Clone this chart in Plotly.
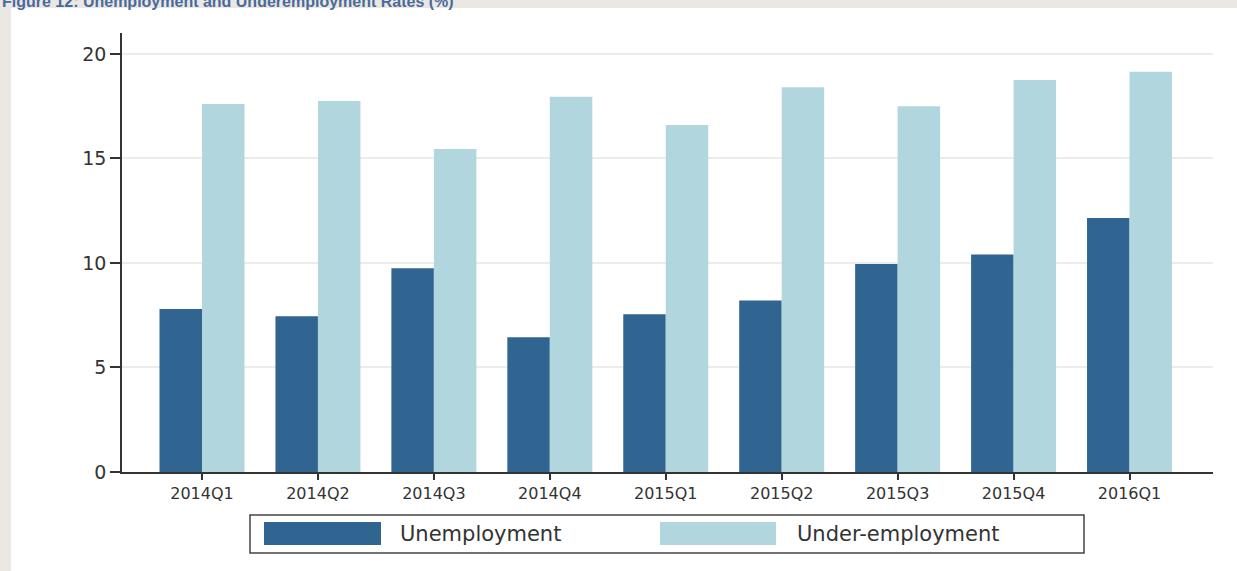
import plotly.graph_objects as go

quarters = ["2014Q1", "2014Q2", "2014Q3", "2014Q4", "2015Q1", "2015Q2", "2015Q3", "2015Q4", "2016Q1"]
unemployment = [7.8, 7.45, 9.75, 6.45, 7.55, 8.2, 9.95, 10.4, 12.15]
underemployment = [17.6, 17.75, 15.45, 17.95, 16.6, 18.4, 17.5, 18.75, 19.15]
series_names = ["Unemployment", "Under-employment"]
series_colors = ["#2f6590", "#b2d6de"]
y_ticks = [0, 5, 10, 15, 20]
title_text = "Figure 12: Unemployment and Underemployment Rates (%)"

W, H = 1237, 571
L, R, T, B = 122, 24, 33, 99
PW, PH = W - L - R, H - T - B

def px(x):
    return (x - L) / PW

def py(y):
    return (H - B - y) / PH

fig = go.Figure()
for name, vals, col in zip(series_names, [unemployment, underemployment], series_colors):
    fig.add_trace(go.Bar(x=quarters, y=vals, name=name, marker=dict(color=col, line=dict(width=0)),
                         showlegend=False))

shapes = []
annotations = []
# white panel
shapes.append(dict(type="rect", xref="paper", yref="paper", x0=px(11), x1=px(W + 5), y0=py(H + 5), y1=py(8),
                   fillcolor="white", line=dict(width=0), layer="below"))
# legend box
shapes.append(dict(type="rect", xref="paper", yref="paper", x0=px(250), x1=px(1084), y0=py(553), y1=py(515),
                   fillcolor="white", line=dict(color="#444444", width=1.5)))
sw = [(264, 381, 398), (660, 776, 795)]
for (a, b, t), name, col in zip(sw, series_names, series_colors):
    shapes.append(dict(type="rect", xref="paper", yref="paper", x0=px(a), x1=px(b), y0=py(545), y1=py(522),
                       fillcolor=col, line=dict(width=0)))
    annotations.append(dict(xref="paper", yref="paper", x=px(t), y=py(534), xanchor="left", yanchor="middle",
                            text=name, showarrow=False,
                            font=dict(family="DejaVu Sans", size=21, color="#333333")))
annotations.append(dict(xref="paper", yref="paper", x=px(0), y=py(12), xanchor="left", yanchor="bottom",
                        text="<b>" + title_text + "</b>", showarrow=False,
                        font=dict(family="Liberation Sans", size=16, color="#4a6a9c")))

fig.update_layout(
    width=W, height=H,
    margin=dict(l=L, r=R, t=T, b=B),
    paper_bgcolor="#ebe8e3",
    plot_bgcolor="white",
    barmode="group",
    bargap=0.267,
    bargroupgap=0,
    shapes=shapes,
    annotations=annotations,
    xaxis=dict(range=[-0.69, 8.72], showgrid=False, showline=True, linecolor="#333333", linewidth=1.5,
               ticks="outside", ticklen=6, tickcolor="#333333", tickwidth=1.5,
               tickfont=dict(family="DejaVu Sans", size=16, color="#333333")),
    yaxis=dict(range=[0, 21], tickvals=y_ticks, showgrid=True, gridcolor="#ececec", gridwidth=1.5,
               zeroline=False, showline=True, linecolor="#333333", linewidth=1.5,
               ticks="outside", ticklen=10, tickcolor="#333333", tickwidth=1.5,
               tickfont=dict(family="DejaVu Sans", size=19, color="#333333")),
)
fig.write_html("out.html", config={"displayModeBar": False},
               post_script="document.body.style.margin='0';document.body.style.overflow='hidden';")
